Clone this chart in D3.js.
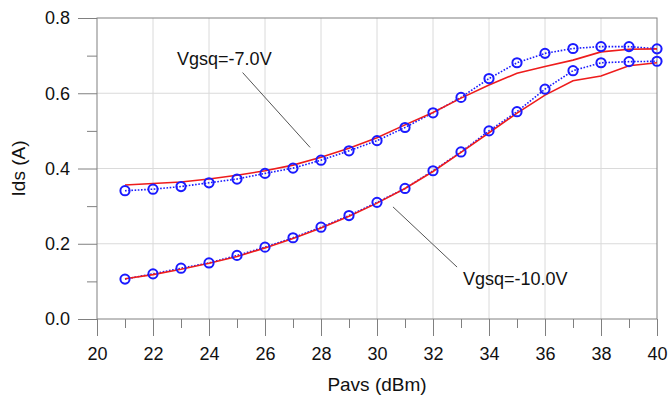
<!DOCTYPE html>
<html>
<head>
<meta charset="utf-8">
<script src="https://cdn.jsdelivr.net/npm/d3@7"></script>
<style>
  body { margin: 0; background: #fff; }
  svg { display: block; font-family: Arial, 'Liberation Sans', sans-serif; }
</style>
</head>
<body>
<svg id="chart" width="668" height="398"></svg>
<script>
// Pavs sweep (dBm)
const pavs = [21, 22, 23, 24, 25, 26, 27, 28, 29, 30, 31, 32, 33, 34, 35, 36, 37, 38, 39, 40]

// Vgsq = -7.0 V
const meas7 = [0.341, 0.345, 0.352, 0.362, 0.372, 0.387, 0.401, 0.422, 0.447, 0.474,
  0.509, 0.548, 0.589, 0.639, 0.681, 0.706, 0.719, 0.724, 0.724, 0.718]
const sim7 = [0.356, 0.360, 0.364, 0.372, 0.382, 0.394, 0.409, 0.430, 0.454, 0.482,
  0.516, 0.549, 0.587, 0.622, 0.653, 0.671, 0.688, 0.710, 0.717, 0.718]

// Vgsq = -10.0 V
const meas10 = [0.106, 0.120, 0.135, 0.149, 0.169, 0.191, 0.216, 0.244, 0.275, 0.310,
  0.347, 0.394, 0.444, 0.500, 0.551, 0.611, 0.660, 0.681, 0.684, 0.685]
const sim10 = [0.107, 0.118, 0.132, 0.148, 0.166, 0.189, 0.214, 0.242, 0.273, 0.308,
  0.347, 0.392, 0.443, 0.495, 0.547, 0.595, 0.633, 0.646, 0.673, 0.681]

const xMajor = [20, 22, 24, 26, 28, 30, 32, 34, 36, 38, 40]
const xMinor = [21, 23, 25, 27, 29, 31, 33, 35, 37, 39]
const yMajor = [0.0, 0.2, 0.4, 0.6, 0.8]
const yMinor = [0.1, 0.3, 0.5, 0.7]

// label anchor + leader line, in data units
const notes = [
  { text: 'Vgsq=-7.0V', tx: 22.86, ty: 0.675, x1: 25.2, y1: 0.655, x2: 27.61, y2: 0.456 },
  { text: 'Vgsq=-10.0V', tx: 33.07, ty: 0.090, x1: 30.57, y1: 0.298, x2: 32.86, y2: 0.138 }
]

const FRAME = '#808080'
const GRID = '#dadada'
const RED = '#ee1c1c'
const BLUE = '#1a1aff'

const margin = { top: 18, right: 11, bottom: 79, left: 97 }
const W = 668, H = 398
const iw = W - margin.left - margin.right
const ih = H - margin.top - margin.bottom

const svg = d3.select('#chart')
const g = svg.append('g').attr('transform', `translate(${margin.left},${margin.top})`)

const x = d3.scaleLinear().domain([20, 40]).range([0, iw])
const y = d3.scaleLinear().domain([0, 0.8]).range([ih, 0])

// grid
g.append('g')
  .selectAll('line.vg')
  .data(xMajor.slice(1, -1))
  .join('line')
  .attr('x1', d => x(d)).attr('x2', d => x(d))
  .attr('y1', 0).attr('y2', ih)
  .attr('stroke', GRID).attr('stroke-width', 1)
g.append('g')
  .selectAll('line.hg')
  .data(yMajor.slice(1, -1))
  .join('line')
  .attr('x1', 0).attr('x2', iw)
  .attr('y1', d => y(d)).attr('y2', d => y(d))
  .attr('stroke', GRID).attr('stroke-width', 1)

// axes
function styleAxis(sel) {
  sel.attr('color', FRAME)
  sel.selectAll('text').attr('fill', '#111').attr('font-size', 18)
  sel.select('.domain').remove()
}

g.append('g')
  .attr('transform', `translate(0,${ih})`)
  .call(d3.axisBottom(x).tickValues(xMinor).tickSize(9).tickFormat(''))
  .call(styleAxis)
g.append('g')
  .attr('transform', `translate(0,${ih})`)
  .call(d3.axisBottom(x).tickValues(xMajor).tickSize(17).tickPadding(11).tickFormat(d3.format('d')))
  .call(styleAxis)

g.append('g')
  .call(d3.axisLeft(y).tickValues(yMinor).tickSize(10).tickFormat(''))
  .call(styleAxis)
g.append('g')
  .call(d3.axisLeft(y).tickValues(yMajor).tickSize(19).tickPadding(8).tickFormat(d3.format('.1f')))
  .call(styleAxis)

// frame
g.append('rect')
  .attr('x', 0).attr('y', 0).attr('width', iw).attr('height', ih)
  .attr('fill', 'none').attr('stroke', FRAME).attr('stroke-width', 1)

// axis titles
svg.append('text')
  .attr('x', margin.left + iw / 2).attr('y', 391)
  .attr('text-anchor', 'middle').attr('font-size', 19).attr('fill', '#111')
  .text('Pavs (dBm)')
svg.append('text')
  .attr('transform', `translate(25,${margin.top + ih / 2}) rotate(-90)`)
  .attr('text-anchor', 'middle').attr('font-size', 19).attr('fill', '#111')
  .text('Ids (A)')

// series
const line = d3.line().x(d => x(d[0])).y(d => y(d[1]))
const zipped = vals => pavs.map((p, i) => [p, vals[i]])

const measured = [meas7, meas10].map(zipped)
const simulated = [sim7, sim10].map(zipped)

g.append('g')
  .selectAll('path')
  .data(measured)
  .join('path')
  .attr('d', line)
  .attr('fill', 'none')
  .attr('stroke', BLUE)
  .attr('stroke-width', 1.6)
  .attr('stroke-dasharray', '1.6,1.6')

g.append('g')
  .selectAll('path')
  .data(simulated)
  .join('path')
  .attr('d', line)
  .attr('fill', 'none')
  .attr('stroke', RED)
  .attr('stroke-width', 1.6)

g.append('g')
  .selectAll('circle')
  .data(measured.flat())
  .join('circle')
  .attr('cx', d => x(d[0]))
  .attr('cy', d => y(d[1]))
  .attr('r', 4.6)
  .attr('fill', 'none')
  .attr('stroke', BLUE)
  .attr('stroke-width', 2)

// annotations
const noteG = g.append('g')
noteG.selectAll('line')
  .data(notes)
  .join('line')
  .attr('x1', d => x(d.x1)).attr('y1', d => y(d.y1))
  .attr('x2', d => x(d.x2)).attr('y2', d => y(d.y2))
  .attr('stroke', '#555').attr('stroke-width', 1)
noteG.selectAll('text')
  .data(notes)
  .join('text')
  .attr('x', d => x(d.tx)).attr('y', d => y(d.ty))
  .attr('font-size', 18).attr('fill', '#111')
  .text(d => d.text)
</script>
</body>
</html>
